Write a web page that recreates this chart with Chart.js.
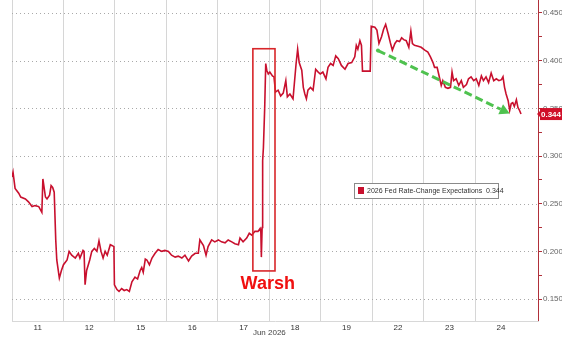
<!DOCTYPE html>
<html><head><meta charset="utf-8">
<script src="https://cdn.jsdelivr.net/npm/chart.js@4/dist/chart.umd.min.js"></script>
<style>html,body{margin:0;padding:0;background:#fff;overflow:hidden}#wrap{width:562px;height:339px}</style>
</head><body><div id="wrap"><canvas id="c" width="562" height="339"></canvas></div>
<script>
// ---- data ----
const dayLabels = ['11','12','15','16','17','18','19','22','23','24'];
const monthLabel = 'Jun 2026';
const seriesName = '2026 Fed Rate-Change Expectations';
const dayPos = [
 0.00,0.02,0.06,0.13,0.17,0.26,0.32,0.39,0.45,0.52,0.58,0.60,0.65,0.68,0.73,0.76,0.79,0.82,0.85,0.87,0.92,0.96,1.00,
 1.07,1.11,1.16,1.23,1.29,1.32,1.38,1.40,1.42,1.45,1.51,1.55,1.60,1.65,1.69,1.73,1.77,1.81,1.85,1.91,1.95,1.98,1.99,
 2.04,2.08,2.13,2.18,2.23,2.28,2.33,2.39,2.44,2.49,2.52,2.55,2.59,2.62,2.67,2.72,2.78,2.84,2.91,2.97,
 3.04,3.10,3.17,3.23,3.30,3.36,3.43,3.49,3.56,3.62,3.65,3.72,3.77,3.81,3.88,3.94,4.01,
 4.07,4.14,4.20,4.27,4.33,4.40,4.43,4.49,4.56,4.61,4.66,4.72,4.78,4.82,4.835,4.845,4.86,4.87,4.885,4.91,4.93,4.95,4.98,5.01,
 5.06,5.09,5.12,5.17,5.22,5.27,5.32,5.35,5.40,5.46,5.52,5.55,5.58,5.63,5.66,5.69,5.72,5.75,5.80,5.85,5.90,5.95,
 5.99,6.04,6.10,6.14,6.19,6.24,6.29,6.34,6.40,6.47,6.53,6.60,6.66,6.69,6.72,6.76,6.79,6.81,6.96,
 6.98,7.05,7.09,7.13,7.18,7.22,7.26,7.31,7.35,7.39,7.44,7.48,7.53,7.57,7.61,7.66,7.71,7.75,7.78,7.82,7.89,7.95,
 8.02,8.08,8.13,8.18,8.21,8.26,8.29,8.34,8.37,8.42,8.47,8.52,8.55,8.58,8.63,8.68,8.73,8.77,8.83,8.87,8.92,8.97,
 9.02,9.07,9.12,9.16,9.21,9.26,9.31,9.36,9.41,9.46,9.51,9.54,9.57,9.60,9.64,9.67,9.70,9.73,9.76,9.80,9.83,9.86,9.89
];
const rateValues = [
 0.278,0.283,0.266,0.261,0.257,0.255,0.252,0.247,0.248,0.247,0.241,0.276,0.257,0.255,0.259,0.269,0.267,0.262,0.212,0.191,0.172,0.180,0.186,
 0.191,0.200,0.196,0.193,0.198,0.193,0.201,0.200,0.165,0.180,0.191,0.200,0.203,0.200,0.211,0.200,0.193,0.200,0.196,0.207,0.206,0.205,0.165,
 0.160,0.158,0.161,0.159,0.160,0.158,0.168,0.173,0.171,0.180,0.183,0.178,0.192,0.191,0.186,0.193,0.198,0.202,0.200,0.201,
 0.200,0.196,0.194,0.195,0.193,0.196,0.190,0.195,0.198,0.198,0.212,0.206,0.196,0.205,0.212,0.210,0.212,
 0.210,0.209,0.212,0.210,0.208,0.207,0.214,0.210,0.214,0.219,0.217,0.221,0.221,0.224,0.220,0.194,0.225,0.295,0.309,0.351,0.397,0.390,0.386,0.388,
 0.384,0.383,0.367,0.369,0.363,0.366,0.379,0.362,0.365,0.360,0.397,0.412,0.398,0.390,0.372,0.365,0.360,0.369,0.372,0.369,0.391,0.388,
 0.386,0.388,0.381,0.393,0.397,0.395,0.405,0.402,0.395,0.391,0.397,0.398,0.404,0.416,0.412,0.421,0.416,0.389,0.389,
 0.436,0.435,0.432,0.418,0.425,0.433,0.438,0.428,0.419,0.411,0.418,0.421,0.420,0.424,0.422,0.421,0.414,0.431,0.418,0.416,0.415,0.414,
 0.411,0.409,0.404,0.398,0.393,0.393,0.386,0.374,0.379,0.372,0.371,0.372,0.388,0.379,0.381,0.374,0.379,0.372,0.375,0.381,0.383,0.379,
 0.381,0.374,0.384,0.379,0.383,0.377,0.387,0.379,0.381,0.379,0.380,0.383,0.372,0.365,0.358,0.348,0.355,0.356,0.352,0.359,0.351,0.348,0.344
];
const yMajorTicks = [0.150,0.200,0.250,0.300,0.350,0.400,0.450];
const yMinorTicks = [0.175,0.225,0.275,0.325,0.375,0.425];
const dayBoundaries = [0,1,2,3,4,5,6,7,8,9];
const lastValue = rateValues[rateValues.length-1];

// annotation anchors (in data units: day position, rate)
const warshBox = [4.68, 5.11, 0.4125, 0.1795];
const warshLabel = ['Warsh', 4.97, 0.166];
const trendArrow = [7.11, 0.4106, 9.67, 0.3445];

// ---- drawing ----
const FONT = '"Liberation Sans", Arial, Helvetica, sans-serif';
const X_MIN = 0, X_MAX = 10.22, Y_MIN = 0.127, Y_MAX = 0.4636;

const overlay = {
  id: 'overlay',
  beforeDatasetsDraw(chart) {
    const {ctx, scales, chartArea} = chart;
    const y = scales.y;
    ctx.save();
    ctx.strokeStyle = '#a9a9a9'; ctx.lineWidth = 1; ctx.setLineDash([1, 3]);
    yMajorTicks.forEach(v => {
      const py = Math.round(y.getPixelForValue(v)) + 0.5;
      ctx.beginPath(); ctx.moveTo(chartArea.left, py); ctx.lineTo(chartArea.right, py); ctx.stroke();
    });
    ctx.restore();
  },
  afterDatasetsDraw(chart) {
    const {ctx, scales} = chart;
    const x = scales.x, y = scales.y;
    ctx.save();
    // Warsh box
    const bx1 = x.getPixelForValue(warshBox[0]), bx2 = x.getPixelForValue(warshBox[1]);
    const by1 = y.getPixelForValue(warshBox[2]), by2 = y.getPixelForValue(warshBox[3]);
    ctx.strokeStyle = '#d8262a'; ctx.lineWidth = 1.6;
    ctx.strokeRect(bx1, by1, bx2 - bx1, by2 - by1);
    ctx.fillStyle = '#f01010';
    ctx.font = 'bold 18px ' + FONT;
    ctx.textAlign = 'center'; ctx.textBaseline = 'middle';
    ctx.fillText(warshLabel[0], x.getPixelForValue(warshLabel[1]), y.getPixelForValue(warshLabel[2]));
    // Trend arrow
    const ax1 = x.getPixelForValue(trendArrow[0]), ay1 = y.getPixelForValue(trendArrow[1]);
    const ax2 = x.getPixelForValue(trendArrow[2]), ay2 = y.getPixelForValue(trendArrow[3]);
    const ang = Math.atan2(ay2 - ay1, ax2 - ax1);
    const hl = 10, hw = 5.5;
    const baseX = ax2 - hl * Math.cos(ang), baseY = ay2 - hl * Math.sin(ang);
    ctx.strokeStyle = '#4fc24f'; ctx.fillStyle = '#4fc24f';
    ctx.lineWidth = 3; ctx.setLineDash([8, 4]); ctx.lineCap = 'butt';
    ctx.beginPath(); ctx.moveTo(ax1, ay1); ctx.lineTo(baseX, baseY); ctx.stroke();
    ctx.setLineDash([]);
    ctx.beginPath();
    ctx.moveTo(ax2, ay2);
    ctx.lineTo(baseX + hw * Math.sin(ang), baseY - hw * Math.cos(ang));
    ctx.lineTo(baseX - hw * Math.sin(ang), baseY + hw * Math.cos(ang));
    ctx.closePath(); ctx.fill();
    ctx.beginPath(); ctx.arc(ax1, ay1, 2, 0, Math.PI * 2); ctx.fill();
    // Legend box
    const lx = 354.5, ly = 183.5, lw = 144, lh = 15;
    ctx.fillStyle = '#fff'; ctx.fillRect(lx, ly, lw, lh);
    ctx.strokeStyle = '#8a8a8a'; ctx.lineWidth = 1; ctx.strokeRect(lx, ly, lw, lh);
    ctx.fillStyle = '#c8102e'; ctx.fillRect(358, 187, 6, 7);
    ctx.fillStyle = '#333'; ctx.font = '7px ' + FONT;
    ctx.textAlign = 'left'; ctx.textBaseline = 'middle';
    ctx.fillText(seriesName + '  ' + lastValue.toFixed(3), 367, 191.5);
    ctx.restore();
  },
  afterDraw(chart) {
    const {ctx, scales, chartArea} = chart;
    const y = scales.y, x = scales.x;
    ctx.save();
    // right axis line
    ctx.strokeStyle = '#b0303a'; ctx.lineWidth = 1;
    ctx.beginPath(); ctx.moveTo(chartArea.right + 0.5, 0); ctx.lineTo(chartArea.right + 0.5, chartArea.bottom); ctx.stroke();
    // last value tag
    const vy = y.getPixelForValue(lastValue);
    ctx.fillStyle = '#d0102a';
    ctx.fillRect(540, vy - 6, 22, 12);
    ctx.beginPath(); ctx.moveTo(540, vy - 3); ctx.lineTo(537, vy); ctx.lineTo(540, vy + 3); ctx.fill();
    ctx.fillStyle = '#fff'; ctx.font = 'bold 8px ' + FONT;
    ctx.textAlign = 'center'; ctx.textBaseline = 'middle';
    ctx.fillText(lastValue.toFixed(3), 551, vy + 0.5);
    // month label
    ctx.fillStyle = '#444'; ctx.font = '8px ' + FONT;
    ctx.fillText(monthLabel, x.getPixelForValue(5.0), chartArea.bottom + 12);
    ctx.restore();
  }
};

new Chart(document.getElementById('c'), {
  type: 'line',
  data: {
    datasets: [{
      label: seriesName,
      data: dayPos.map((d, i) => ({x: d, y: rateValues[i]})),
      borderColor: '#c8102e',
      borderWidth: 1.6,
      pointRadius: 0,
      tension: 0,
      fill: false
    }]
  },
  options: {
    responsive: false,
    animation: false,
    devicePixelRatio: 1,
    layout: {padding: {left: 12, top: 0, right: 0, bottom: 0}},
    plugins: {legend: {display: false}, tooltip: {enabled: false}},
    scales: {
      x: {
        type: 'linear', position: 'bottom', min: X_MIN, max: X_MAX,
        afterBuildTicks: s => { s.ticks = dayBoundaries.map(v => ({value: v})); },
        ticks: {display: false},
        grid: {color: '#d6d6d6', lineWidth: 1, drawTicks: false},
        border: {display: false},
        afterFit: s => { s.height = 0; s.paddingLeft = 0; s.paddingRight = 0; }
      },
      xl: {
        type: 'linear', position: 'bottom', min: X_MIN, max: X_MAX,
        afterBuildTicks: s => { s.ticks = dayLabels.map((l, i) => ({value: i + 0.5})); },
        ticks: {
          callback: (v, i) => dayLabels[i],
          color: '#333', font: {size: 8, family: FONT}, padding: 2, maxRotation: 0, autoSkip: false
        },
        grid: {display: false, drawTicks: false},
        border: {display: true, color: '#d8d8d8'},
        afterFit: s => { s.height = 18; s.paddingLeft = 0; s.paddingRight = 0; }
      },
      y: {
        type: 'linear', position: 'right', min: Y_MIN, max: Y_MAX,
        afterBuildTicks: s => {
          s.ticks = yMajorTicks.concat(yMinorTicks).sort((a, b) => a - b).map(v => ({value: v}));
        },
        ticks: {
          callback: v => yMajorTicks.some(m => Math.abs(m - v) < 1e-6) ? v.toFixed(3) : '',
          color: '#666', font: {size: 8, family: FONT}, padding: 1, autoSkip: false
        },
        grid: {
          drawOnChartArea: false,
          tickColor: '#b0303a', tickLength: 4, lineWidth: 1
        },
        border: {display: false},
        afterFit: s => { s.width = 24; s.paddingTop = 0; s.paddingBottom = 0; }
      }
    }
  },
  plugins: [overlay]
});
</script>
</body></html>
